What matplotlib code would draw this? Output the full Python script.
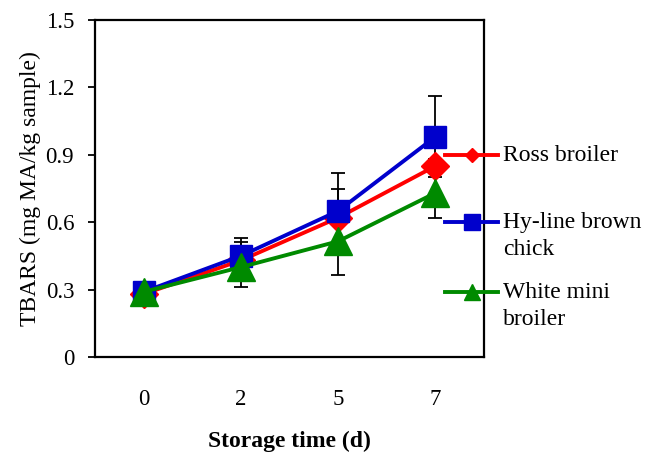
import numpy as np
import matplotlib.pyplot as plt
from matplotlib.lines import Line2D

plt.rcParams['font.family'] = ['Liberation Serif', 'DejaVu Serif']

days = ['0', '2', '5', '7']
ross = [0.28, 0.43, 0.62, 0.85]
ross_err = [0.03, 0.08, 0.13, 0.03]
hyline = [0.29, 0.45, 0.65, 0.98]
hyline_err = [0.03, 0.08, 0.17, 0.18]
mini = [0.29, 0.40, 0.515, 0.73]
mini_err = [0.03, 0.09, 0.15, 0.11]

# name, values, errors, colour, marker, plot marker size, legend marker size
series = [
    ('Ross broiler', ross, ross_err, '#ff0000', 'D', 14, 7),
    ('Hy-line brown\nchick', hyline, hyline_err, '#0000cc', 's', 16.5, 11),
    ('White mini\nbroiler', mini, mini_err, '#008a00', '^', 20, 11.5),
]

W, H = 645, 455
fig = plt.figure(figsize=(W / 100, H / 100), dpi=100)
ax = fig.add_axes([95 / W, 1 - 357 / H, (484 - 95) / W, (357 - 20) / H])
x = np.arange(len(days))

# error bars first, underneath the lines and markers
for name, y, err, col, mk, ms, lms in series:
    ax.errorbar(x, y, yerr=err, fmt='none', ecolor='black', elinewidth=1.3,
                capsize=4.7, capthick=1.3, zorder=1)

for name, y, err, col, mk, ms, lms in series:
    ax.plot(x, y, color=col, marker=mk, markersize=ms, linewidth=2.8, zorder=3)

ax.set_xlim(-0.5, 3.5)
ax.set_ylim(0, 1.5)
ax.set_yticks([0, 0.3, 0.6, 0.9, 1.2, 1.5])
ax.set_yticklabels(['0', '0.3', '0.6', '0.9', '1.2', '1.5'])
ax.set_xticks(x)
ax.set_xticklabels(days)
ax.tick_params(axis='y', direction='out', length=5, width=1.3, labelsize=16.5, pad=10)
ax.tick_params(axis='x', length=0, labelsize=16.5, pad=23)
for sp in ax.spines.values():
    sp.set_linewidth(1.6)

ax.set_ylabel('TBARS (mg MA/kg sample)', fontsize=17, labelpad=3)
ax.set_xlabel('Storage time (d)', fontsize=17, fontweight='bold', labelpad=15)

# legend drawn by hand so the handle lines up with the first text line
tf = fig.transFigure
legend_rows = [155, 222, 292]
for (name, y, err, col, mk, ms, lms), row in zip(series, legend_rows):
    yy = 1 - row / H
    fig.add_artist(Line2D([445 / W, 498 / W], [yy, yy], transform=tf, color=col,
                          linewidth=2.8, zorder=5))
    fig.add_artist(Line2D([471.5 / W], [yy], transform=tf, color=col, marker=mk,
                          markersize=lms, linestyle='none', zorder=6))
    fig.text(503 / W, yy + 10 / H, name, transform=tf, fontsize=17, va='top',
             ha='left', linespacing=1.4)

fig.savefig('out.png', dpi=100)
